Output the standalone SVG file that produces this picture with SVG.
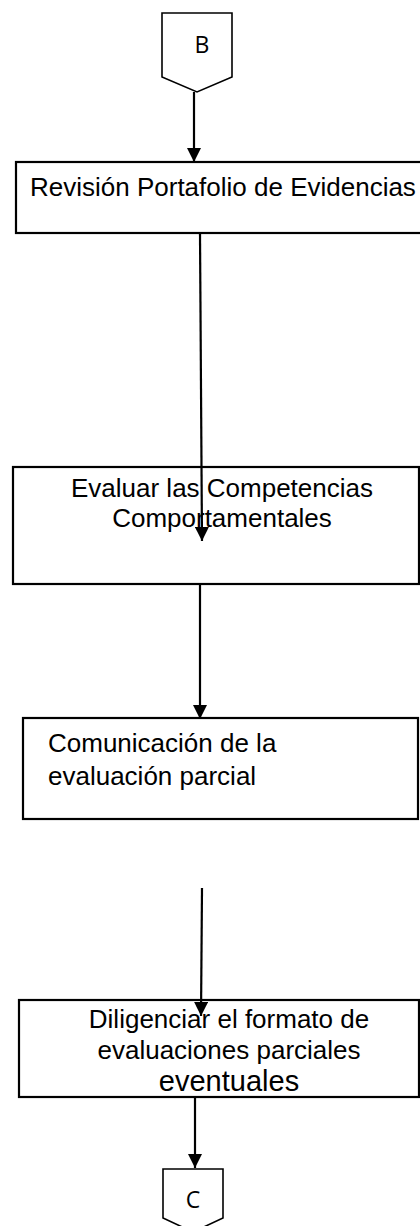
<svg xmlns="http://www.w3.org/2000/svg" width="420" height="1226" viewBox="0 0 420 1226">
<style>
.box{fill:#fff;stroke:#000;stroke-width:2.2}
.off{fill:#fff;stroke:#000;stroke-width:1.6}
.t{font-family:"Liberation Sans",Arial,sans-serif;font-size:26px;fill:#000}
.c{font-family:"Open Sans","Noto Sans",sans-serif;font-size:23px;fill:#000;text-anchor:middle}
.ln{fill:none;stroke:#000;stroke-width:2.2}
</style>
<defs>
<marker id="ah" viewBox="0 0 14 14" refX="14" refY="7" markerWidth="14" markerHeight="14" markerUnits="userSpaceOnUse" orient="auto">
<path d="M0,0 L14,7 L0,14 z" fill="#000"/>
</marker>
</defs>
<g id="nodeB">
<path class="off" d="M162,13 H232 V77 L197,92 L162,77 Z"/>
<text class="c" x="202" y="53">B</text>
</g>
<g id="node1">
<rect class="box" x="16" y="162" width="410" height="71"/>
<text class="t" x="30" y="196">Revisión Portafolio de Evidencias</text>
</g>
<g id="node2">
<rect class="box" x="13" y="467" width="406" height="117"/>
<text class="t" x="222" y="497" text-anchor="middle">Evaluar las Competencias</text>
<text class="t" x="222" y="527" text-anchor="middle">Comportamentales</text>
</g>
<g id="node3">
<rect class="box" x="23" y="718" width="395" height="101"/>
<text class="t" x="48" y="752">Comunicación de la</text>
<text class="t" x="48" y="785">evaluación parcial</text>
</g>
<g id="node4">
<rect class="box" x="19" y="1000" width="400" height="97"/>
<text class="t" x="229" y="1028" text-anchor="middle">Diligenciar el formato de</text>
<text class="t" x="229" y="1059" text-anchor="middle">evaluaciones parciales</text>
<text class="t" x="229" y="1091" text-anchor="middle" style="font-size:29px">eventuales</text>
</g>
<g id="nodeC">
<path class="off" d="M163,1169 H223 V1218 L193,1232 L163,1218 Z"/>
<text class="c" x="193" y="1208">C</text>
</g>
<g id="connectors">
<line class="ln" x1="194" y1="92" x2="194" y2="162" marker-end="url(#ah)"/>
<line class="ln" x1="200" y1="234" x2="202" y2="541" marker-end="url(#ah)"/>
<line class="ln" x1="200" y1="584" x2="200" y2="719" marker-end="url(#ah)"/>
<line class="ln" x1="202" y1="888" x2="201" y2="1016" marker-end="url(#ah)"/>
<line class="ln" x1="195" y1="1097" x2="195" y2="1168" marker-end="url(#ah)"/>
</g>
</svg>
